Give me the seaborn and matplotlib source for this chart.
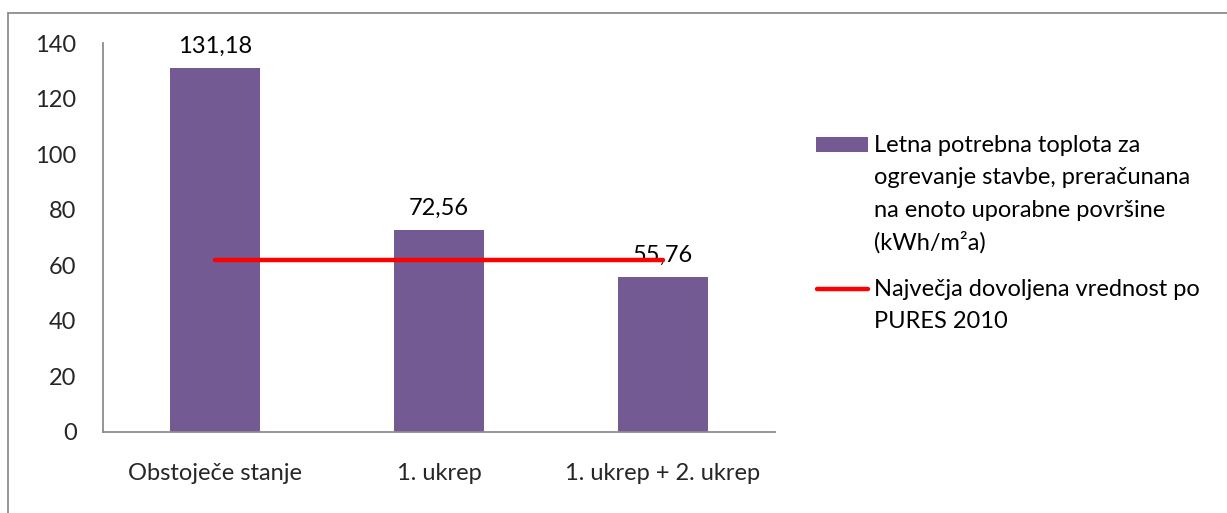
import matplotlib
matplotlib.use("Agg")
import matplotlib.pyplot as plt
import seaborn as sns
import pandas as pd
from matplotlib.patches import Rectangle
from matplotlib.lines import Line2D

categories = ["Obstoječe stanje", "1. ukrep", "1. ukrep + 2. ukrep"]
values = [131.18, 72.56, 55.76]
limit_value = 62
yticks = [0, 20, 40, 60, 80, 100, 120, 140]
bar_legend = ["Letna potrebna toplota za", "ogrevanje stavbe, preračunana",
              "na enoto uporabne površine", "(kWh/m²a)"]
line_legend = ["Največja dovoljena vrednost po", "PURES 2010"]

sns.set_theme(style="white")
plt.rcParams['font.family'] = ['Lato', 'DejaVu Sans']

bar_color = "#735A93"
line_color = "#FF0000"
fs = 17

fig = plt.figure(figsize=(12.27, 5.13), dpi=100)
W, H = 1227, 513
ax = fig.add_axes([103 / W, 1 - 432 / H, (775 - 103) / W, (432 - 43) / H])

df = pd.DataFrame({"cat": categories, "val": values})
sns.barplot(data=df, x="cat", y="val", color=bar_color, width=0.4, ax=ax,
            saturation=1, edgecolor="none")
ax.plot([0, 2], [limit_value, limit_value], color=line_color, lw=3.2,
        solid_capstyle="round", zorder=5)

ax.bar_label(ax.containers[0], labels=[f"{v:.2f}".replace(".", ",") for v in values],
             padding=8, fontsize=fs, color="black")

ax.set_ylim(0, 140)
ax.set_xlim(-0.5, 2.5)
ax.set_yticks(yticks)
ax.set_yticklabels([str(t) for t in yticks], fontsize=fs)
ax.set_xticks(range(len(categories)))
ax.set_xticklabels(categories, fontsize=fs)
ax.tick_params(axis="y", length=0, pad=19)
ax.tick_params(axis="x", length=0, pad=22)
ax.set_xlabel("")
ax.set_ylabel("")
for s in ["top", "right"]:
    ax.spines[s].set_visible(False)
for s in ["left", "bottom"]:
    ax.spines[s].set_color("#8C8C8C")
    ax.spines[s].set_linewidth(1.3)

# legend drawn in figure pixel coordinates
def fx(px):
    return px / W

def fy(py):
    return 1 - py / H

fig.add_artist(Rectangle((fx(816), fy(152)), fx(868) - fx(816), fy(137) - fy(152),
                         transform=fig.transFigure, facecolor=bar_color,
                         edgecolor="none"))
fig.add_artist(Line2D([fx(817), fx(868)], [fy(289), fy(289)],
                      transform=fig.transFigure, color=line_color, lw=3.2,
                      solid_capstyle="round"))
line_step = 32.5
for i, txt in enumerate(bar_legend):
    fig.text(fx(874), fy(152 + i * line_step), txt, fontsize=fs,
             ha="left", va="baseline", color="black")
for i, txt in enumerate(line_legend):
    fig.text(fx(874), fy(296 + i * line_step), txt, fontsize=fs,
             ha="left", va="baseline", color="black")

fig.add_artist(Rectangle((8 / W, -0.1), 1.2, 1 - 13 / H + 0.1,
                         transform=fig.transFigure, fill=False,
                         edgecolor="#8C8C8C", lw=1.3, clip_on=False))

fig.savefig("out.png", dpi=100)
